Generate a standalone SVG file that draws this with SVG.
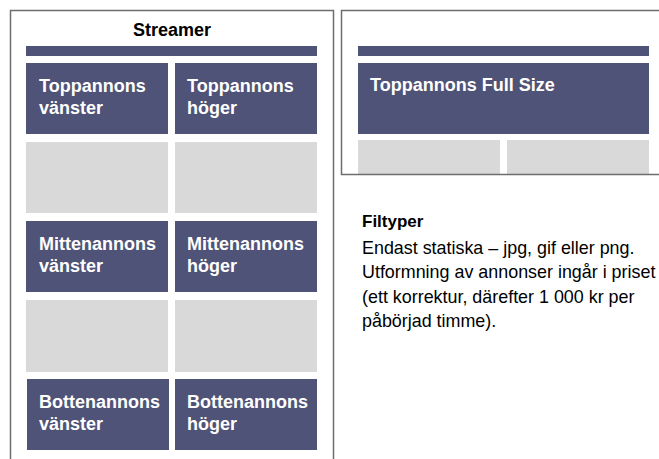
<svg xmlns="http://www.w3.org/2000/svg" width="659" height="459" viewBox="0 0 659 459">
<style>
.frame{fill:none;stroke:#6e6e6e;stroke-width:1.5}
.ad{fill:#4f5377}
.empty{fill:#d9d9d9}
.lbl{font-family:"Liberation Sans",Arial,sans-serif;font-weight:bold;font-size:18px;fill:#ffffff}
.title{font-family:"Liberation Sans",Arial,sans-serif;font-weight:bold;font-size:18px;fill:#000000}
.head{font-family:"Liberation Sans",Arial,sans-serif;font-weight:bold;font-size:17px;fill:#000000}
.body{font-family:"Liberation Sans",Arial,sans-serif;font-size:17.9px;fill:#000000}
</style>
<rect width="659" height="459" fill="#ffffff"/>
<g id="streamer-page">
<path class="frame" d="M10.5,460 V10.5 H333.5 V460"/>
<text class="title" x="172" y="36" text-anchor="middle">Streamer</text>
<rect class="ad" x="26" y="46" width="291" height="10"/>
</g>
<g id="topp-vanster"><rect class="ad" x="26" y="63" width="142" height="71"/><text class="lbl" x="39" y="92">Toppannons</text><text class="lbl" x="39" y="113.5">vänster</text></g>
<g id="topp-hoger"><rect class="ad" x="175" y="63" width="142" height="71"/><text class="lbl" x="187" y="92">Toppannons</text><text class="lbl" x="187" y="113.5">höger</text></g>
<g id="gray-1l"><rect class="empty" x="26" y="142" width="142" height="71"/></g>
<g id="gray-1r"><rect class="empty" x="175" y="142" width="142" height="71"/></g>
<g id="mitten-vanster"><rect class="ad" x="26" y="221" width="142" height="71"/><text class="lbl" x="39" y="250">Mittenannons</text><text class="lbl" x="39" y="271.5">vänster</text></g>
<g id="mitten-hoger"><rect class="ad" x="175" y="221" width="142" height="71"/><text class="lbl" x="187" y="250">Mittenannons</text><text class="lbl" x="187" y="271.5">höger</text></g>
<g id="gray-2l"><rect class="empty" x="26" y="300" width="142" height="72"/></g>
<g id="gray-2r"><rect class="empty" x="175" y="300" width="142" height="72"/></g>
<g id="botten-vanster"><rect class="ad" x="27" y="379" width="142" height="71"/><text class="lbl" x="39" y="408">Bottenannons</text><text class="lbl" x="39" y="429.5">vänster</text></g>
<g id="botten-hoger"><rect class="ad" x="175" y="379" width="142" height="71"/><text class="lbl" x="187" y="408">Bottenannons</text><text class="lbl" x="187" y="429.5">höger</text></g>
<g id="fullsize-page">
<rect class="ad" x="358" y="46" width="291" height="10"/>
<rect class="ad" x="358" y="63" width="291" height="71"/>
<text class="lbl" x="370" y="91">Toppannons Full Size</text>
<rect class="empty" x="358" y="140" width="142" height="34"/>
<rect class="empty" x="507" y="140" width="142" height="34"/>
<path class="frame" d="M660,10.5 H341.5 V174.5 H660"/>
</g>
<g id="filtyper">
<text class="head" x="362" y="226.5">Filtyper</text>
<text class="body" x="362" y="253.5">Endast statiska – jpg, gif eller png.</text>
<text class="body" x="362" y="278">Utformning av annonser ingår i priset</text>
<text class="body" x="362" y="302.5">(ett korrektur, därefter 1 000 kr per</text>
<text class="body" x="362" y="327">påbörjad timme).</text>
</g>
</svg>
